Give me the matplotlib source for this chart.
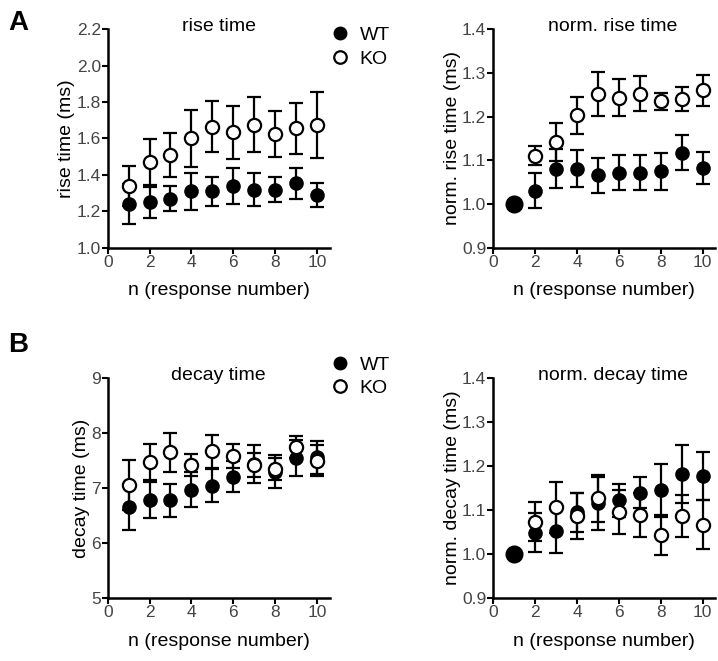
import matplotlib.pyplot as plt
import numpy as np

plt.rcParams['font.family'] = ['Liberation Sans', 'DejaVu Sans']

n = np.arange(1, 11)

# A: rise time (ms)
rise_wt = [1.24, 1.25, 1.27, 1.31, 1.31, 1.34, 1.32, 1.32, 1.355, 1.29]
rise_wt_err = [0.11, 0.085, 0.07, 0.10, 0.08, 0.10, 0.09, 0.07, 0.085, 0.065]
rise_ko = [1.34, 1.47, 1.51, 1.60, 1.665, 1.635, 1.675, 1.625, 1.655, 1.675]
rise_ko_err = [0.11, 0.125, 0.12, 0.155, 0.14, 0.145, 0.15, 0.125, 0.14, 0.18]

# A: normalised rise time
nrise_wt = [1.0, 1.031, 1.081, 1.081, 1.066, 1.072, 1.072, 1.075, 1.117, 1.083]
nrise_wt_err = [0.0, 0.04, 0.045, 0.043, 0.04, 0.04, 0.04, 0.042, 0.04, 0.037]
nrise_ko = [1.0, 1.111, 1.142, 1.203, 1.252, 1.243, 1.252, 1.235, 1.24, 1.26]
nrise_ko_err = [0.0, 0.022, 0.044, 0.042, 0.05, 0.042, 0.04, 0.02, 0.028, 0.036]

# B: decay time (ms)
decay_wt = [6.66, 6.78, 6.78, 6.97, 7.04, 7.21, 7.44, 7.30, 7.55, 7.56]
decay_wt_err = [0.42, 0.33, 0.30, 0.32, 0.30, 0.28, 0.35, 0.30, 0.33, 0.30]
decay_ko = [7.06, 7.47, 7.65, 7.42, 7.67, 7.58, 7.42, 7.35, 7.75, 7.50]
decay_ko_err = [0.45, 0.33, 0.36, 0.20, 0.30, 0.22, 0.22, 0.20, 0.20, 0.28]

# B: normalised decay time
ndecay_wt = [1.0, 1.049, 1.052, 1.095, 1.116, 1.122, 1.14, 1.145, 1.183, 1.178]
ndecay_wt_err = [0.0, 0.045, 0.05, 0.045, 0.06, 0.037, 0.035, 0.06, 0.066, 0.055]
ndecay_ko = [1.0, 1.074, 1.107, 1.086, 1.127, 1.095, 1.09, 1.044, 1.087, 1.067]
ndecay_ko_err = [0.0, 0.045, 0.058, 0.052, 0.053, 0.05, 0.05, 0.045, 0.048, 0.055]

fig = plt.figure(figsize=(7.18, 6.61), dpi=100)

boxes = [
    [0.150, 0.625, 0.309, 0.331],
    [0.687, 0.625, 0.309, 0.331],
    [0.150, 0.095, 0.309, 0.333],
    [0.687, 0.095, 0.309, 0.333],
]
panels = [
    (rise_wt, rise_wt_err, rise_ko, rise_ko_err, 'rise time', 'rise time (ms)',
     (1.0, 2.2), np.arange(1.0, 2.21, 0.2), '%.1f', False),
    (nrise_wt, nrise_wt_err, nrise_ko, nrise_ko_err, 'norm. rise time', 'norm. rise time (ms)',
     (0.9, 1.4), np.arange(0.9, 1.41, 0.1), '%.1f', True),
    (decay_wt, decay_wt_err, decay_ko, decay_ko_err, 'decay time', 'decay time (ms)',
     (5, 9), np.arange(5, 9.1, 1), '%d', False),
    (ndecay_wt, ndecay_wt_err, ndecay_ko, ndecay_ko_err, 'norm. decay time', 'norm. decay time (ms)',
     (0.9, 1.4), np.arange(0.9, 1.41, 0.1), '%.1f', True),
]

axes = []
for box, p in zip(boxes, panels):
    wt, wt_e, ko, ko_e, title, ylab, ylim, yt, fmt, norm = p
    ax = fig.add_axes(box)
    axes.append(ax)
    start = 1 if norm else 0
    ax.errorbar(n[start:], wt[start:], yerr=wt_e[start:], fmt='o', color='black',
                mfc='black', mec='black', ms=9.5, elinewidth=1.6, capsize=5,
                capthick=1.6, zorder=3, clip_on=False)
    ax.errorbar(n[start:], ko[start:], yerr=ko_e[start:], fmt='o', color='black',
                mfc='white', mec='black', mew=1.6, ms=9.5, elinewidth=1.6, capsize=5,
                capthick=1.6, zorder=4, clip_on=False)
    if norm:
        ax.plot(n[0], wt[0], 'o', color='black', ms=12, zorder=5)
    ax.set_xlim(0, 10.6)
    ax.set_ylim(*ylim)
    ax.set_xticks([0, 2, 4, 6, 8, 10])
    ax.set_yticks(yt)
    ax.set_yticklabels([fmt % v for v in yt])
    for s in ['top', 'right']:
        ax.spines[s].set_visible(False)
    for s in ['left', 'bottom']:
        ax.spines[s].set_linewidth(1.8)
    ax.tick_params(width=1.5, length=4, labelsize=12.5, labelcolor='#444444', pad=1)
    ax.set_xlabel('n (response number)', fontsize=14, labelpad=9)
    ax.set_ylabel(ylab, fontsize=14, labelpad=1)
    ax.set_title(title, fontsize=14, x=0.54 if norm else 0.5, y=0.99, pad=0)

# legends next to the left panels
for ax, ytop in ((axes[0], 1.047), (axes[2], 1.135)):
    h1, = ax.plot([], [], 'o', color='black', ms=9)
    h2, = ax.plot([], [], 'o', mfc='white', mec='black', mew=1.6, ms=9)
    ax.legend([h1, h2], ['WT', 'KO'], loc='upper left', bbox_to_anchor=(0.96, ytop),
              frameon=False, fontsize=14, handletextpad=0.4, labelspacing=0.3,
              handlelength=1.2, borderaxespad=0)

fig.text(0.012, 0.965, 'A', fontsize=20, fontweight='bold', va='center')
fig.text(0.012, 0.478, 'B', fontsize=20, fontweight='bold', va='center')

plt.savefig('out.png', dpi=100)
